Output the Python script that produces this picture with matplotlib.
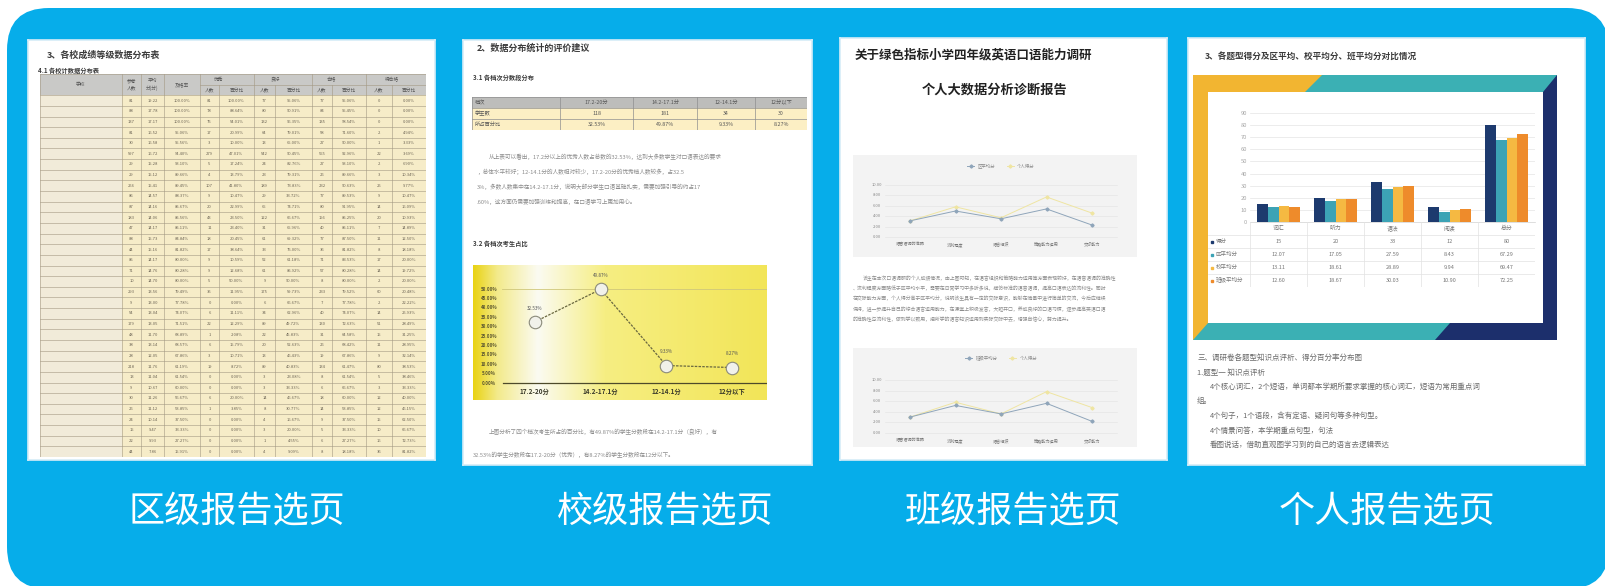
import numpy as np
import matplotlib.pyplot as plt
from matplotlib.patches import FancyBboxPatch, Rectangle, Polygon
from matplotlib.colors import LinearSegmentedColormap

plt.rcParams['font.family'] = ['Noto Sans CJK SC', 'DejaVu Sans']

# ---------------- data ----------------
captions = ["区级报告选页", "校级报告选页", "班级报告选页", "个人报告选页"]

# 区级报告: 各校成绩等级数据分布表
school_n = [81, 88, 137, 81, 30, 597, 29, 29, 256, 86, 87, 183, 47, 88, 44, 85, 71,
            10, 293, 9, 54, 179, 48, 38, 28, 218, 13, 9, 30, 26, 24, 15, 22, 44]
school_avg = [19.22, 17.78, 17.17, 16.52, 16.58, 16.72, 15.28, 15.12, 15.41, 14.57, 14.16,
              14.06, 14.17, 15.73, 15.16, 14.17, 14.76, 14.70, 13.56, 13.00, 13.04, 13.05,
              11.70, 13.14, 12.05, 11.76, 11.04, 10.67, 11.26, 11.12, 10.14, 9.47, 9.93, 7.86]
pass_rate = [100.00, 100.00, 100.00, 95.06, 95.56, 94.40, 93.10, 89.66, 89.45, 88.37, 85.67,
             85.56, 85.11, 84.84, 81.82, 80.00, 80.28, 80.00, 79.49, 77.78, 74.07, 71.51,
             68.89, 68.57, 67.86, 61.19, 61.54, 60.00, 56.67, 53.85, 37.50, 33.33, 27.27, 15.91]
exc_n = [81, 78, 75, 17, 3, 279, 5, 4, 107, 9, 20, 43, 11, 18, 17, 9, 9,
         5, 35, 0, 6, 22, 1, 6, 3, 19, 0, 0, 6, 1, 0, 0, 0, 0]
exc_p = [100.00, 88.64, 54.01, 20.99, 10.00, 47.01, 17.24, 13.79, 41.80, 10.47, 22.99,
         23.50, 23.40, 20.45, 38.64, 10.59, 12.68, 50.00, 11.95, 0.00, 11.11, 12.29,
         2.08, 15.79, 10.71, 8.72, 0.00, 0.00, 20.00, 3.85, 0.00, 0.00, 0.00, 0.00]
good_n = [77, 80, 132, 64, 13, 542, 24, 23, 189, 29, 65, 122, 31, 61, 33, 52, 61,
          9, 175, 6, 34, 89, 22, 20, 13, 89, 3, 3, 14, 8, 4, 3, 1, 4]
good_p = [95.06, 90.91, 96.35, 79.01, 65.00, 90.45, 82.76, 79.31, 73.83, 33.72, 74.71,
          66.67, 65.96, 69.32, 75.00, 61.18, 85.92, 90.00, 59.73, 66.67, 62.96, 49.72,
          45.83, 52.63, 46.43, 40.83, 23.08, 33.33, 46.67, 30.77, 16.67, 20.00, 4.55, 9.09]
ok_n = [77, 84, 135, 58, 27, 555, 27, 26, 232, 77, 80, 156, 40, 77, 36, 71, 57,
        8, 233, 7, 40, 130, 31, 26, 19, 134, 8, 6, 18, 14, 9, 5, 6, 8]
ok_p = [95.06, 95.45, 98.54, 71.60, 90.00, 92.96, 93.10, 89.66, 90.63, 89.53, 91.95,
        85.25, 85.11, 87.50, 81.82, 83.53, 80.28, 80.00, 79.52, 77.78, 74.07, 72.63,
        64.58, 68.42, 67.86, 61.47, 61.54, 66.67, 60.00, 53.85, 37.50, 33.33, 27.27, 18.18]
fail_n = [0, 0, 0, 2, 1, 22, 2, 3, 25, 9, 14, 20, 7, 11, 8, 17, 14,
          2, 60, 2, 14, 51, 15, 11, 9, 80, 5, 3, 12, 12, 15, 10, 16, 36]
fail_p = [0.00, 0.00, 0.00, 4.94, 3.33, 3.69, 6.90, 10.34, 9.77, 10.47, 16.09,
          10.93, 14.89, 12.50, 18.18, 20.00, 19.72, 20.00, 20.48, 22.22, 25.93, 28.49,
          31.25, 28.95, 32.14, 38.53, 38.46, 33.33, 40.00, 46.15, 62.50, 66.67, 72.73, 81.82]

# 校级报告: 各档次分数段
band_labels = ["17.2-20分", "14.2-17.1分", "12-14.1分", "12分以下"]
band_counts = [118, 181, 34, 30]
band_share = [32.53, 49.87, 9.33, 8.27]

# 班级报告: 口语能力维度
skill_labels = ["语音语调的准确", "流利程度", "语言组织", "策略能力运用", "交际能力"]
district_avg = [3.1, 5.0, 3.5, 5.4, 2.3]
personal_a = [3.1, 5.8, 3.7, 7.7, 4.6]
class_avg = [3.0, 5.2, 3.6, 5.6, 2.2]
personal_b = [3.0, 5.8, 3.6, 7.8, 4.8]

# 个人报告: 各题型得分
parts = ["词汇", "听力", "语法", "阅读", "总分"]
series_names = ["得分", "区平均分", "校平均分", "班级平均分"]
score = [15, 20, 33, 12, 80]
dist_mean = [12.07, 17.05, 27.59, 8.43, 67.29]
school_mean = [13.11, 18.61, 28.89, 9.94, 69.47]
class_mean = [12.60, 18.67, 30.03, 10.90, 72.25]

# ---------------- layout helpers ----------------
W, H = 1605, 586
fig = plt.figure(figsize=(W / 100, H / 100), dpi=100)
fig.patch.set_facecolor('white')


def px_axes(x0, y0, x1, y1):
    return fig.add_axes([x0 / W, 1 - y1 / H, (x1 - x0) / W, (y1 - y0) / H])


def page(x0, y0, x1, y1):
    ax = px_axes(x0, y0, x1, y1)
    ax.set_xlim(0, x1 - x0)
    ax.set_ylim(y1 - y0, 0)
    ax.set_xticks([])
    ax.set_yticks([])
    for s in ax.spines.values():
        s.set_color('#d6ecf7')
        s.set_linewidth(1.2)
    return ax


def wrap(s, n):
    return [s[i:i + n] for i in range(0, len(s), n)]


TITLE = '#3b3b3b'
BODY = '#8c8c8c'

# background panel
bg = fig.add_axes([0, 0, 1, 1])
bg.set_xlim(0, W)
bg.set_ylim(H, 0)
bg.axis('off')
bg.add_patch(FancyBboxPatch((7, 8), 1602, 581, boxstyle="round,pad=0,rounding_size=42",
                            facecolor='#06ADEA', edgecolor='none'))
for cx, cap in zip([237, 665, 1013, 1387], captions):
    bg.text(cx, 512, cap, color='white', fontsize=26, ha='center', va='center',
            fontweight='light')

# ---------------- page 1: 区级 ----------------
p1 = page(28, 40, 435, 460)
p1.text(19, 15, "3、各校成绩等级数据分布表", fontsize=6.5, fontweight='bold', color=TITLE, va='center')
p1.text(10, 30, "4.1 各校计数据分布表", fontsize=4.5, fontweight='bold', color=TITLE, va='center')

col_w = [82, 19, 23, 36, 19, 35, 21, 37, 20, 34, 26, 34]
edges = np.concatenate([[0], np.cumsum(col_w)])
nrow = len(school_n)
t1 = px_axes(40, 74, 426, 457)
t1.set_xlim(0, edges[-1])
t1.set_ylim(nrow + 2, 0)
t1.axis('off')
t1.add_patch(Rectangle((0, 0), edges[-1], 2, facecolor='#c9c9c7', edgecolor='none'))
t1.add_patch(Rectangle((0, 2), edges[-1], nrow, facecolor='#f6ecc8', edgecolor='none'))
t1.add_patch(Rectangle((0, 2), edges[1], nrow, facecolor='#f1ebd9', edgecolor='none'))
grid_c = '#a39882'
for r in range(nrow + 3):
    x_start = edges[4] if r == 1 else 0
    t1.plot([x_start, edges[-1]], [r, r], color=grid_c, lw=0.4)
for j, e in enumerate(edges):
    y_start = 1 if j in (5, 7, 9, 11) else 0
    t1.plot([e, e], [y_start, nrow + 2], color=grid_c, lw=0.4)

hdr_kw = dict(fontsize=3.4, ha='center', va='center', color='#555')
mid = lambda j: (edges[j] + edges[j + 1]) / 2
t1.text(mid(0), 1, "学校", **hdr_kw)
t1.text(mid(1), 1, "参考\n人数", linespacing=1.6, **hdr_kw)
t1.text(mid(2), 1, "平均\n分(分)", linespacing=1.6, **hdr_kw)
t1.text(mid(3), 1, "及格率", **hdr_kw)
for k, name in enumerate(["优秀", "良好", "合格", "待合格"]):
    j = 4 + 2 * k
    t1.text(edges[j + 1], 0.5, name, **hdr_kw)
    t1.text(mid(j), 1.5, "人数", **hdr_kw)
    t1.text(mid(j + 1), 1.5, "百分比", **hdr_kw)

cols = [school_n, school_avg, pass_rate, exc_n, exc_p, good_n, good_p, ok_n, ok_p, fail_n, fail_p]
fmts = ['{:d}', '{:.2f}', '{:.2f}%', '{:d}', '{:.2f}%', '{:d}', '{:.2f}%', '{:d}', '{:.2f}%', '{:d}', '{:.2f}%']
for j, (col, f) in enumerate(zip(cols, fmts)):
    for r, v in enumerate(col):
        t1.text(mid(j + 1), r + 2.5, f.format(v), fontsize=3.0, ha='center', va='center', color='#6e6656')

# ---------------- page 2: 校级 ----------------
p2 = page(463, 40, 812, 465)
p2.text(14, 8, "2、数据分布统计的评价建议", fontsize=6.5, fontweight='bold', color=TITLE, va='center')
p2.text(10, 37, "3.1 各档次分数段分布", fontsize=4.5, fontweight='bold', color=TITLE, va='center')

t2 = px_axes(472, 97, 807, 130)
t2w = [88, 73, 64, 58, 52]
e2 = np.concatenate([[0], np.cumsum(t2w)])
t2.set_xlim(0, e2[-1])
t2.set_ylim(3, 0)
t2.axis('off')
t2.add_patch(Rectangle((0, 0), e2[-1], 1, facecolor='#bdbdbb', edgecolor='none'))
t2.add_patch(Rectangle((0, 1), e2[-1], 2, facecolor='#fcefc4', edgecolor='none'))
for r in range(4):
    t2.plot([0, e2[-1]], [r, r], color='#8f8f8f', lw=0.5)
for e in e2:
    t2.plot([e, e], [0, 3], color='#8f8f8f', lw=0.5)
row_names = ["档次", "学生数", "所占百分比"]
for r, nm in enumerate(row_names):
    t2.text(3, r + 0.5, nm, fontsize=3.8, va='center', color='#555')
for i, lab in enumerate(band_labels):
    cx = (e2[i + 1] + e2[i + 2]) / 2
    t2.text(cx, 0.5, lab, fontsize=3.8, ha='center', va='center', color='#555')
    t2.text(cx, 1.5, str(band_counts[i]), fontsize=3.8, ha='center', va='center', color='#555')
    t2.text(cx, 2.5, f"{band_share[i]:.2f}%", fontsize=3.8, ha='center', va='center', color='#555')

para2 = ("从上表可以看出，17.2分以上的优秀人数占总数的32.53%，达到大多数学生对口语表达的要求，总体"
         "水平较好；12-14.1分的人数相对较少，17.2-20分的优秀档人数较多，占32.53%，多数人数集中在"
         "14.2-17.1分，说明大部分学生口语基础扎实，需要加强引导的约占17.60%，这方面仍需要加强训"
         "练和提高，在口语学习上更加用心。")
for i, line in enumerate(wrap(para2, 46)):
    p2.text(26 if i == 0 else 14, 117 + 15 * i, line, fontsize=4.1, color=BODY, va='center')
p2.text(10, 203, "3.2 各档次考生占比", fontsize=4.5, fontweight='bold', color=TITLE, va='center')

c2 = px_axes(473, 265, 767, 400)
xl, yl = (-0.94, 3.53), (-9.0, 62.8)
grad = LinearSegmentedColormap.from_list('g', [(0, '#e9d313'), (0.08, '#f3ea8a'), (0.22, '#fbfbf2'),
                                               (0.45, '#f6ee82'), (1, '#f2e558')])
c2.imshow(np.linspace(0, 1, 256)[None, :], cmap=grad, extent=(*xl, *yl), aspect='auto', zorder=0)
c2.set_xlim(*xl)
c2.set_ylim(*yl)
c2.axis('off')
c2.plot([-0.5, xl[1]], [50, 50], color='#cfc77a', lw=0.6)
c2.plot([-0.48, xl[1]], [0, 0], color='#4d4a2a', lw=0.9)
for v in range(0, 55, 5):
    c2.text(-0.70, v, f"{v:.2f}%", fontsize=3.2, ha='center', va='center', color='#5a5530', fontweight='bold')
for i, lab in enumerate(band_labels):
    c2.text(i, -4.5, lab, fontsize=4.6, ha='center', va='center', color='#3a3a2a', fontweight='bold')
c2.plot(range(len(band_share)), band_share, ls=(0, (2, 1)), color='#6a6840', lw=0.9,
        marker='o', ms=9, mfc='#f1f1ea', mec='#8a8a7a', mew=0.8)
for i, v in enumerate(band_share):
    c2.text(i, v + 7.3, f"{v:.2f}%", fontsize=3.3, ha='center', va='center', color='#555')

para2b = ("上图分析了四个档次考生所占的百分比，有49.87%的学生分数段在14.2-17.1分（良好），有32.53%的"
          "学生分数段在17.2-20分（优秀），有8.27%的学生分数段在12分以下。")
for i, line in enumerate(wrap(para2b, 48)[:2]):
    p2.text(26 if i == 0 else 10, 392 + 23 * i, line, fontsize=4.1, color=BODY, va='center')

# ---------------- page 3: 班级 ----------------
p3 = page(840, 38, 1167, 460)
p3.text(15, 17, "关于绿色指标小学四年级英语口语能力调研", fontsize=9, fontweight='bold', color='#222', va='center')
p3.text(155, 52, "个人大数据分析诊断报告", fontsize=9.5, fontweight='bold', color='#222', ha='center', va='center')


def skill_chart(y0, y1, zero_px, ten_px, legend_px, s1, s2, names):
    ax = px_axes(853, y0, 1137, y1)
    s = (zero_px - ten_px) / 10
    ylo, yhi = -(y1 - zero_px) / s, 10 + (ten_px - y0) / s
    ax.set_xlim(-(910 - 853) / 45.5, 4 + (1137 - 1092) / 45.5)
    ax.set_ylim(ylo, yhi)
    ax.set_facecolor('#f3f3f3')
    ax.set_xticks([])
    ax.set_yticks([])
    for sp in ax.spines.values():
        sp.set_visible(False)
    for v in range(0, 12, 2):
        ax.plot([-0.55, 4.55], [v, v], color='#e2e2e2', lw=0.4, zorder=1)
        ax.text(-0.73, v, f"{v:.2f}", fontsize=3.0, ha='center', va='center', color='#888')
    for i, lab in enumerate(skill_labels):
        ax.text(i, -1.4, lab, fontsize=3.0, ha='center', va='center', color='#777')
    ax.plot(range(5), s1, color='#8fa5ba', lw=0.7, marker='D', ms=1.6, label=names[0], zorder=3)
    ax.plot(range(5), s2, color='#efe5a2', lw=0.7, marker='D', ms=1.6, label=names[1], zorder=2)
    ly = 10 + (ten_px - legend_px) / s
    ax.legend(loc='center', bbox_to_anchor=(2.0, ly), bbox_transform=ax.transData, ncol=2,
              frameon=False, fontsize=3.2, handlelength=1.6, columnspacing=2.5, labelcolor='#888')
    return ax


skill_chart(155, 257, 237, 185, 166, district_avg, personal_a, ["区平均分", "个人得分"])
para3 = ("该生在本次口语调研的个人成绩情况，由上图可知，在语言组织和策略能力运用等方面表现较好，在语音语调的"
         "准确性、流利程度方面略低于区平均水平，需要在日常学习中多听多说，模仿标准的语音语调，提高口语表达的"
         "流利性。同时在交际能力方面，个人得分高于区平均分，说明该生具有一定的交际意识，能够在情景中进行简单"
         "的交流，今后应继续保持，进一步提升自己的综合语言运用能力，在课堂上积极发言，大胆开口，养成良好的口"
         "语习惯，逐步提高英语口语的准确性与流利性，做到学以致用，把所学的语言知识运用到实际交际中去，增强自"
         "信心，努力提升。")
for i, line in enumerate(wrap(para3, 52)):
    p3.text(23 if i == 0 else 13, 240 + 10.3 * i, line, fontsize=3.55, color=BODY, va='center')
skill_chart(348, 447, 433, 380, 358, class_avg, personal_b, ["班级平均分", "个人得分"])

# ---------------- page 4: 个人 ----------------
p4 = page(1188, 38, 1585, 465)
p4.text(17, 19, "3、各题型得分及区平均、校平均分、班平均分对比情况", fontsize=6.2, fontweight='bold',
        color=TITLE, va='center')
p4.add_patch(Rectangle((5, 37), 364, 265, facecolor='#3bb0b4', edgecolor='none'))
p4.add_patch(Polygon([(5, 37), (134, 37), (117, 54), (20, 54), (20, 285), (5, 302)],
                     closed=True, facecolor='#f2b531', edgecolor='none'))
p4.add_patch(Polygon([(369, 37), (369, 302), (247, 302), (262, 285), (355, 285), (355, 54)],
                     closed=True, facecolor='#1c2f6c', edgecolor='none'))
p4.add_patch(Rectangle((20, 54), 335, 231, facecolor='white', edgecolor='none'))

bar_colors = ['#1d3a6e', '#3ca3b5', '#f5b942', '#ee8b2b']
b4 = px_axes(1250, 108, 1535, 222)
b4.set_facecolor('none')
b4.set_xlim(0, 5)
b4.set_ylim(0, 94.1)
x = np.arange(len(parts)) + 0.5
for k, vals in enumerate([score, dist_mean, school_mean, class_mean]):
    b4.bar(x + (k - 1.5) * 0.19, vals, width=0.19, color=bar_colors[k], label=series_names[k], zorder=3)
b4.set_yticks(range(0, 100, 10))
b4.tick_params(axis='y', labelsize=4.2, labelcolor='#a8a8a8', length=0, pad=2)
b4.set_xticks([])
b4.yaxis.grid(True, color='#e4e4e4', lw=0.5)
b4.set_axisbelow(True)
for sp in ['top', 'right', 'left']:
    b4.spines[sp].set_visible(False)
b4.spines['bottom'].set_color('#d0d0d0')
b4.spines['bottom'].set_linewidth(0.5)

tb = px_axes(1208, 222, 1535, 287)
tb.set_xlim(-42 / 57, 5)
tb.set_ylim(5, 0)
tb.axis('off')
for r in range(1, 6):
    tb.plot([-42 / 57, 5], [r, r], color='#e2e2e2', lw=0.5)
for c in range(6):
    tb.plot([c, c], [0, 5], color='#e2e2e2', lw=0.5)
for i, nm in enumerate(parts):
    tb.text(i + 0.5, 0.5, nm, fontsize=4.2, ha='center', va='center', color='#777')
for k, vals in enumerate([score, dist_mean, school_mean, class_mean]):
    tb.plot(-0.66, k + 1.5, marker='s', ms=1.8, color=bar_colors[k], ls='none')
    tb.text(-0.6, k + 1.5, series_names[k], fontsize=4.0, va='center', color='#777')
    for i, v in enumerate(vals):
        txt = f"{v:d}" if isinstance(v, int) else f"{v:.2f}"
        tb.text(i + 0.5, k + 1.5, txt, fontsize=4.0, ha='center', va='center', color='#777')

p4_lines = [(9, "三、调研卷各题型知识点评析、得分百分率分布图"),
            (9, "1.题型一 知识点评析"),
            (22, "4个核心词汇，2个短语，单词都本学期所要求掌握的核心词汇，短语为常用重点词"),
            (9, "组。"),
            (22, "4个句子，1个语段，含有定语、疑问句等多种句型。"),
            (22, "4个情景问答，本学期重点句型，句法"),
            (22, "看图说话，借助直观图学习到的自己的语言去逻辑表达")]
for i, (lx, line) in enumerate(p4_lines):
    p4.text(lx, 320 + 14.5 * i, line, fontsize=5.4, color='#6a6a6a', va='center')

fig.savefig('out.png', dpi=100)
